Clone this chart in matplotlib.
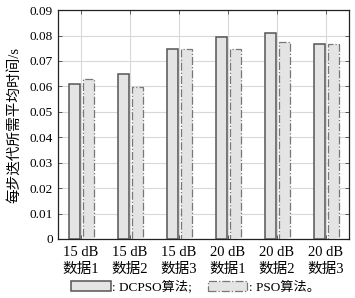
import numpy as np
import matplotlib
matplotlib.use("Agg")
import matplotlib.pyplot as plt

plt.rcParams['font.family'] = ['Liberation Serif', 'Noto Sans CJK SC']

groups = ["15 dB\n数据1", "15 dB\n数据2", "15 dB\n数据3",
          "20 dB\n数据1", "20 dB\n数据2", "20 dB\n数据3"]
dcpso = [0.0608, 0.0649, 0.0748, 0.0793, 0.0810, 0.0765]
pso = [0.0629, 0.0596, 0.0746, 0.0748, 0.0773, 0.0765]

x = np.arange(len(groups))
w = 0.24

fig = plt.figure(figsize=(3.55, 2.98), dpi=100)
ax = fig.add_axes([0.163, 0.198, 0.82, 0.768])

ax.bar(x - 0.13, dcpso, w, color="#e4e4e4", edgecolor="#555555",
       linewidth=1.1, zorder=3, label=": DCPSO算法;")
ax.bar(x + 0.155, pso, w, color="#e4e4e4", edgecolor="#777777",
       linewidth=0.9, linestyle="-.", zorder=3, label=": PSO算法。")

ax.set_xlim(-0.47, 5.47)
ax.set_ylim(0, 0.09)
ax.set_yticks(np.arange(0, 0.091, 0.01))
ax.set_yticklabels(["0"] + ["%.2f" % v for v in np.arange(0.01, 0.091, 0.01)])
ax.set_xticks(x)
ax.set_xticklabels(groups, linespacing=1.45)
ax.tick_params(direction="in", top=True, right=True, labelsize=9.5,
               length=3, width=0.6, color="#444444")
ax.tick_params(axis="x", labelsize=10.5, pad=5)
ax.grid(True, color="#d8d8d8", linewidth=0.8, zorder=0)
for s in ax.spines.values():
    s.set_linewidth(0.9)
    s.set_color("#222222")

ax.set_ylabel("每步迭代所需平均时间/s", fontsize=10.5, labelpad=6)

fig.legend(loc="lower center", bbox_to_anchor=(0.55, -0.025), ncol=2,
           frameon=False, fontsize=9.5, handlelength=3.0, handleheight=0.8,
           handletextpad=0.1, columnspacing=1.2)

fig.savefig("out.png", dpi=100)
